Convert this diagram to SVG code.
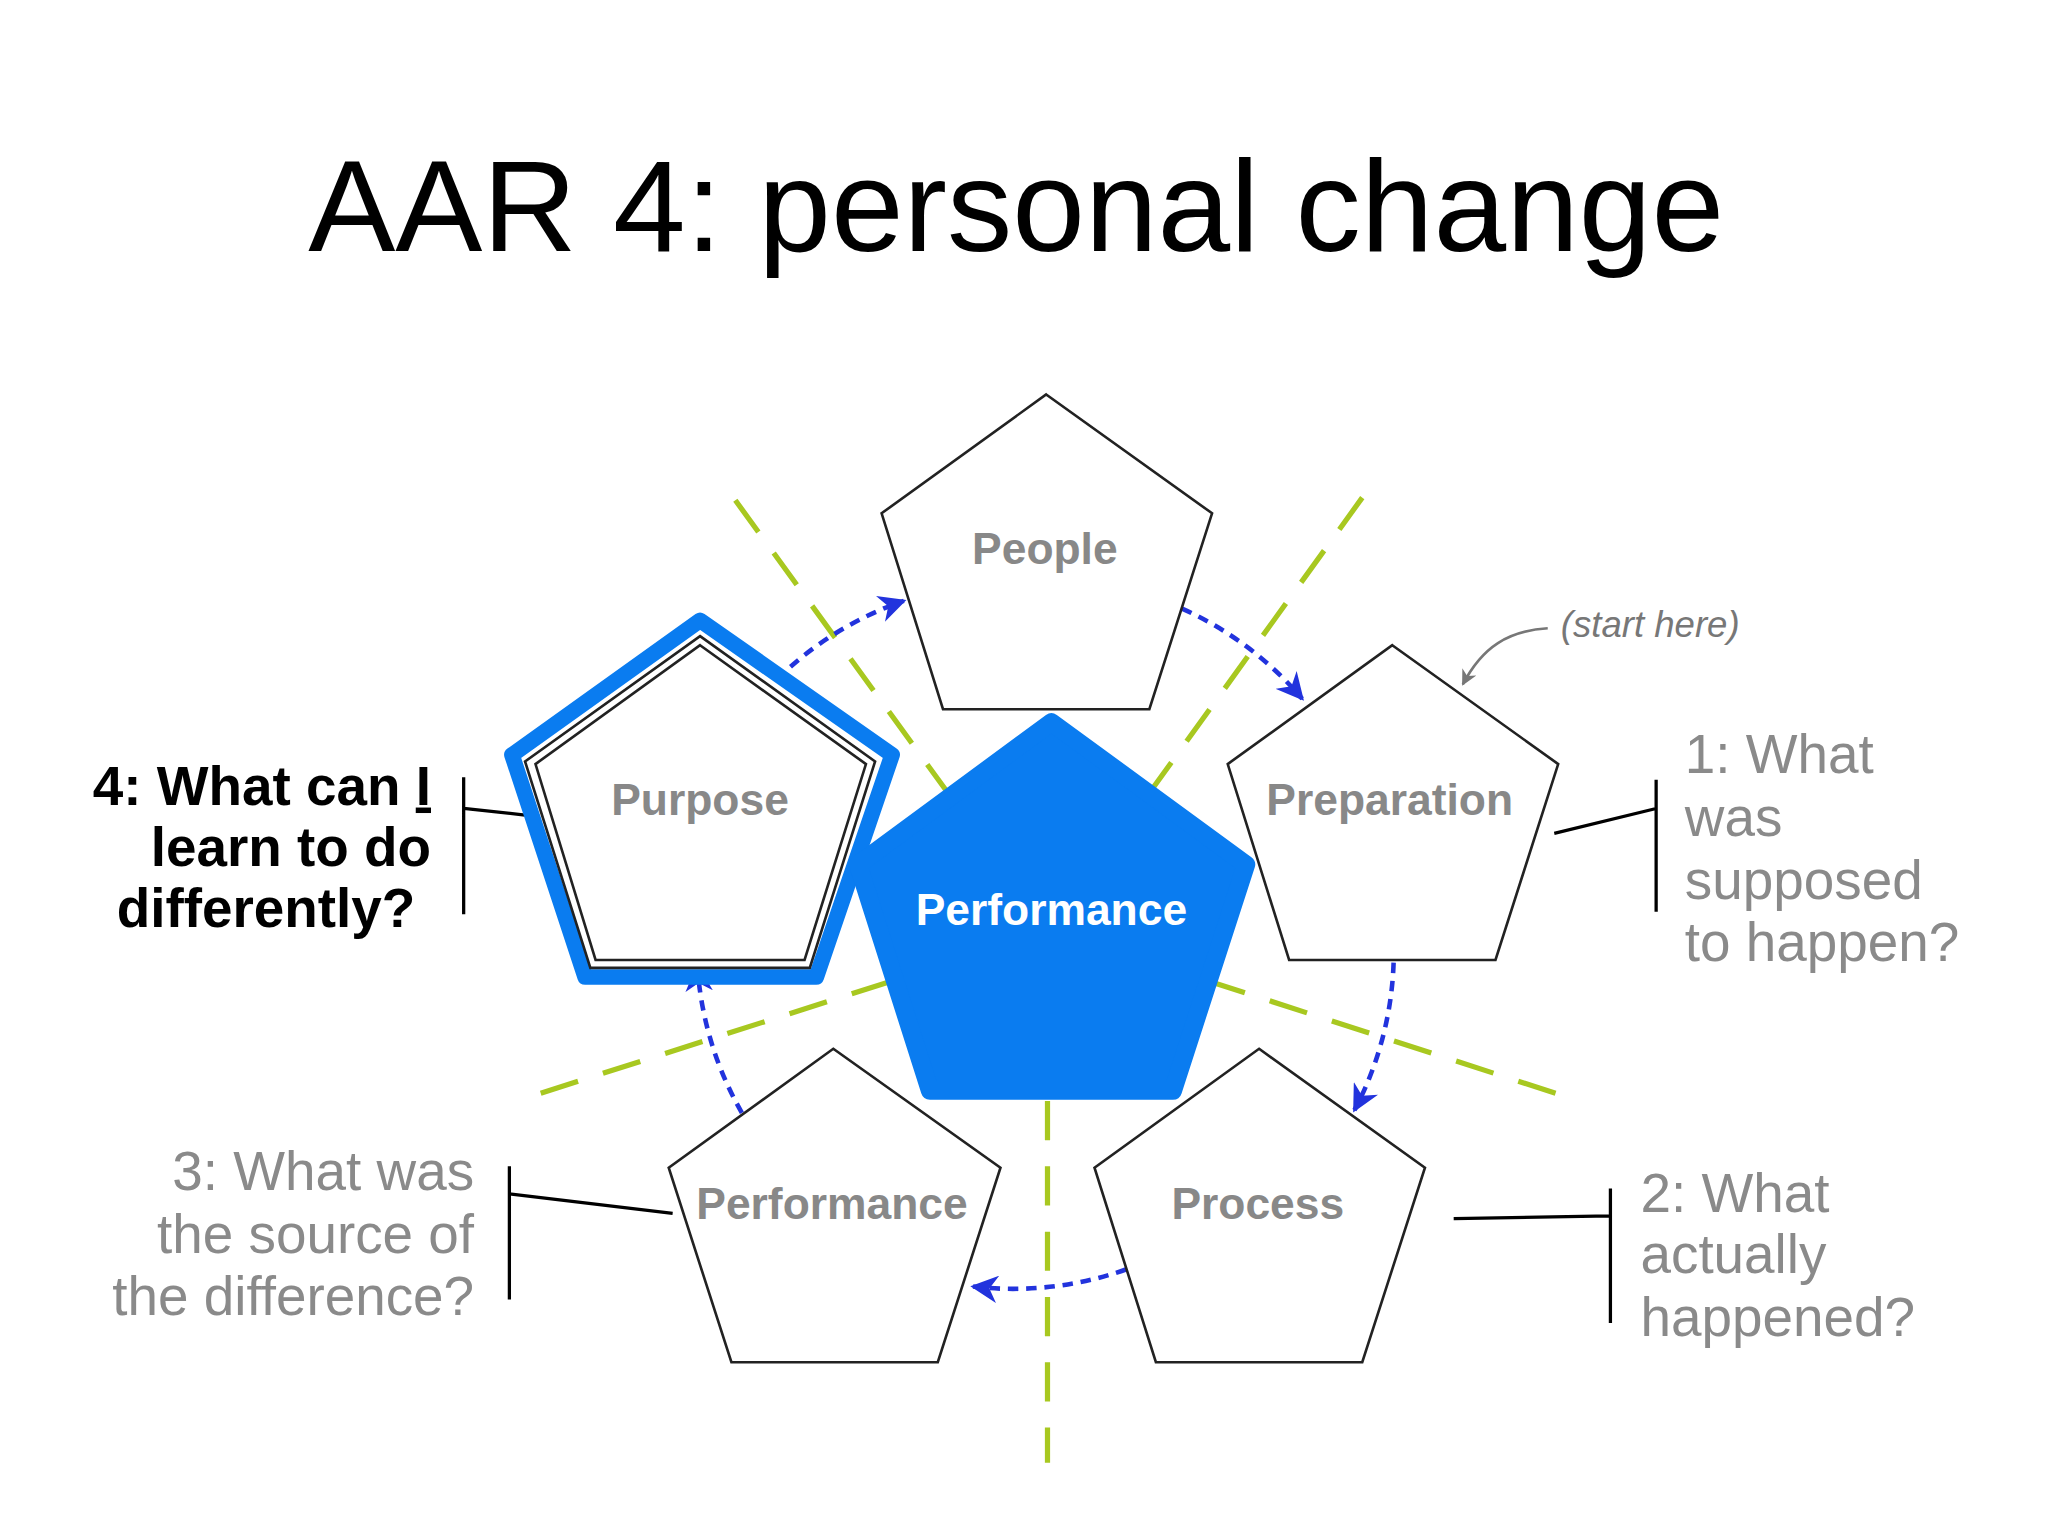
<svg xmlns="http://www.w3.org/2000/svg" width="2048" height="1536" viewBox="0 0 2048 1536">
<defs>
<style>
.pent{fill:#fff;stroke:#222;stroke-width:2}
.lbl{font-family:"Liberation Sans",Arial,sans-serif;font-weight:bold;font-size:34px;fill:#888;text-anchor:middle}
.q{font-family:"Liberation Sans",Arial,sans-serif;font-size:42px;fill:#8a8a8a}
.qb{font-family:"Liberation Sans",Arial,sans-serif;font-size:42px;font-weight:bold;fill:#000;text-anchor:end}
.green{stroke:#a8c820;stroke-width:4;stroke-dasharray:30 20;fill:none}
.arc{stroke:#2233dd;stroke-width:3.5;stroke-dasharray:8 6;fill:none;marker-end:url(#ah)}
.br{stroke:#000;stroke-width:2.5;fill:none}
</style>
<marker id="ah" viewBox="0 0 10 10" refX="9" refY="5" markerWidth="6" markerHeight="6" orient="auto"><path d="M0,0 L10,5 L0,10 L3,5 Z" fill="#2233dd"/></marker>
<marker id="ahg" viewBox="0 0 10 10" refX="9" refY="5" markerWidth="6" markerHeight="6" orient="auto"><path d="M0,0 L10,5 L0,10 L3,5 Z" fill="#777"/></marker>
</defs>
<rect width="2048" height="1536" fill="#fff"/>
<g transform="scale(1.3061)">
<text x="778" y="192" font-family="Liberation Sans,Arial,sans-serif" font-size="100" text-anchor="middle" fill="#000">AAR 4: personal change</text>
<g id="guides">
<line class="green" x1="563" y1="383" x2="725" y2="606"/>
<line class="green" x1="1043" y1="381" x2="883" y2="603"/>
<line class="green" x1="414" y1="837" x2="680" y2="752"/>
<line class="green" x1="1191" y1="837" x2="928" y2="752"/>
<line class="green" x1="802" y1="843" x2="802" y2="1120"/>
</g>
<g id="connectors">
<path class="arc" d="M905,466 A260,260 0 0 1 997,535"/>
<path class="arc" d="M1067,737 A260,260 0 0 1 1037,850"/>
<path class="arc" d="M862,972 A260,260 0 0 1 745,985"/>
<path class="arc" d="M568,852 A260,260 0 0 1 534,740"/>
<path class="arc" d="M595,520 A260,260 0 0 1 692,460"/>
<path d="M1185,481 C1155,483 1135,495 1120,524" stroke="#777" stroke-width="2" fill="none" marker-end="url(#ahg)"/>
<path class="br" d="M1190,638 L1268,619 M1268,597 L1268,698"/>
<path class="br" d="M1113,933 L1233,931 M1233,910 L1233,1013"/>
<path class="br" d="M515,929 L390,914 M390,893 L390,995"/>
<path class="br" d="M402,624 L355,619 M355,595 L355,700"/>
</g>
<g id="people"><polygon class="pent" points="801,302 928,393 880,543 722,543 675,393"/><text class="lbl" x="800" y="432">People</text></g>
<g id="preparation"><polygon class="pent" points="1066,494 1193,585 1145,735 987,735 940,585"/><text class="lbl" x="1064" y="624">Preparation</text></g>
<g id="process"><polygon class="pent" points="964,803 1091,894 1043,1043 885,1043 838,894"/><text class="lbl" x="963" y="933">Process</text></g>
<g id="performance-node"><polygon class="pent" points="638,803 766,894 718,1043 560,1043 512,894"/><text class="lbl" x="637" y="933">Performance</text></g>
<g id="purpose">
<polygon points="536,475 683,578 625,748 448,748 392,578" fill="#fff" stroke="#0a7cf0" stroke-width="12" stroke-linejoin="round"/>
<polygon class="pent" points="536,487 670,583 620,741 452,741 402,583"/>
<polygon class="pent" points="536,494 663,585 616,735 456,735 410,585"/>
<text class="lbl" x="536" y="624">Purpose</text>
</g>
<g id="center">
<polygon points="805,553 954,662 898,835 712,835 657,662" fill="#0a7cf0" stroke="#0a7cf0" stroke-width="14" stroke-linejoin="round"/>
<text x="805" y="708" font-family="Liberation Sans,Arial,sans-serif" font-weight="bold" font-size="34" fill="#fff" text-anchor="middle">Performance</text>
</g>
<text x="1195" y="488" font-family="Liberation Sans,Arial,sans-serif" font-style="italic" font-size="28" fill="#777">(start here)</text>
<g id="q1"><text class="q" x="1290" y="592">1: What</text><text class="q" x="1290" y="640">was</text><text class="q" x="1290" y="688">supposed</text><text class="q" x="1290" y="736">to happen?</text></g>
<g id="q2"><text class="q" x="1256" y="928">2: What</text><text class="q" x="1256" y="975">actually</text><text class="q" x="1256" y="1023">happened?</text></g>
<g id="q3" text-anchor="end"><text class="q" x="363" y="911" text-anchor="end">3: What was</text><text class="q" x="363" y="959" text-anchor="end">the source of</text><text class="q" x="363" y="1007" text-anchor="end">the difference?</text></g>
<g id="q4"><text class="qb" x="330" y="616">4: What can <tspan text-decoration="underline">I</tspan></text><text class="qb" x="330" y="663">learn to do</text><text class="qb" x="318" y="710">differently?</text></g>
</g>
</svg>
